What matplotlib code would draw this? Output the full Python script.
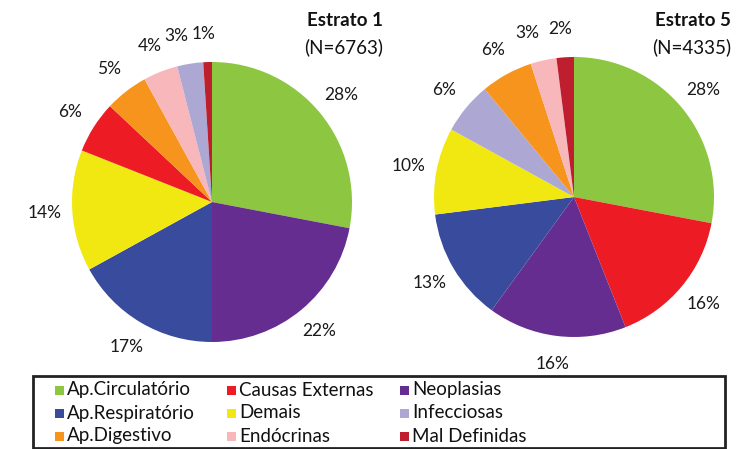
import matplotlib
matplotlib.use("Agg")
import matplotlib.pyplot as plt
from matplotlib.patches import Rectangle

plt.rcParams['font.family'] = ['Lato', 'DejaVu Sans']

# Data
cats1 = ["Ap.Circulatório", "Neoplasias", "Ap.Respiratório", "Demais", "Causas Externas",
         "Ap.Digestivo", "Endócrinas", "Infecciosas", "Mal Definidas"]
vals1 = [28, 22, 17, 14, 6, 5, 4, 3, 1]
cats5 = ["Ap.Circulatório", "Causas Externas", "Neoplasias", "Ap.Respiratório", "Demais",
         "Infecciosas", "Ap.Digestivo", "Endócrinas", "Mal Definidas"]
vals5 = [28, 16, 16, 13, 10, 6, 6, 3, 2]
title1 = ("Estrato 1", "(N=6763)")
title5 = ("Estrato 5", "(N=4335)")
legend_rows = [["Ap.Circulatório", "Causas Externas", "Neoplasias"],
               ["Ap.Respiratório", "Demais", "Infecciosas"],
               ["Ap.Digestivo", "Endócrinas", "Mal Definidas"]]

colors = {
    "Ap.Circulatório": "#8DC641",
    "Neoplasias": "#662D91",
    "Ap.Respiratório": "#394B9D",
    "Demais": "#F2E811",
    "Causas Externas": "#ED1C24",
    "Ap.Digestivo": "#F7941D",
    "Endócrinas": "#F7B7BB",
    "Infecciosas": "#ADA8D3",
    "Mal Definidas": "#BE1E2D",
}

W, H = 737, 449
fig = plt.figure(figsize=(W / 100, H / 100), dpi=100)


def add_pie(cx, cy, r, cats, vals):
    ax = fig.add_axes([(cx - r) / W, (H - cy - r) / H, 2 * r / W, 2 * r / H])
    wedges, texts = ax.pie(vals, colors=[colors[c] for c in cats], startangle=90, counterclock=False,
                           labels=[f"{v}%" for v in vals], labeldistance=1.2, radius=1,
                           textprops=dict(fontsize=12.5, color="#1a1a1a"),
                           wedgeprops=dict(linewidth=0))
    for t in texts:
        t.set_horizontalalignment("center")
        t.set_verticalalignment("center")
    # spread the two smallest top labels slightly apart so they do not overlap
    x, y = texts[-2].get_position()
    texts[-2].set_position((x - 0.07, y))
    x, y = texts[-1].get_position()
    texts[-1].set_position((x - 0.02, y))
    ax.set_xlim(-1, 1)
    ax.set_ylim(-1, 1)
    ax.set_aspect("auto")
    ax.axis("off")
    return ax


add_pie(212, 202, 140, cats1, vals1)
add_pie(574, 197, 140, cats5, vals5)

for (t, n), xr in [(title1, 383), (title5, 731)]:
    fig.text(xr / W, 1 - 21 / H, t, ha="right", va="center", fontsize=13.5, fontweight="bold", color="#111111")
    fig.text(xr / W, 1 - 47 / H, n, ha="right", va="center", fontsize=13.5, color="#111111")

# Legend box
fig.add_artist(Rectangle((33 / W, 1 - 448 / H), (725 - 33) / W, (448 - 376) / H,
                         transform=fig.transFigure, fill=False, edgecolor="#222222", linewidth=2))
col_x = [55, 227, 400]
row_y = [390, 413, 436]
sq = 9
for ri, row in enumerate(legend_rows):
    for ci, cat in enumerate(row):
        x, y = col_x[ci], row_y[ri]
        fig.add_artist(Rectangle((x / W, 1 - (y + sq / 2) / H), sq / W, sq / H,
                                 transform=fig.transFigure, facecolor=colors[cat], edgecolor="none"))
        fig.text((x + sq + 3) / W, 1 - y / H, cat, ha="left", va="center", fontsize=13.5, color="#111111")

fig.savefig("out.png", dpi=100)
